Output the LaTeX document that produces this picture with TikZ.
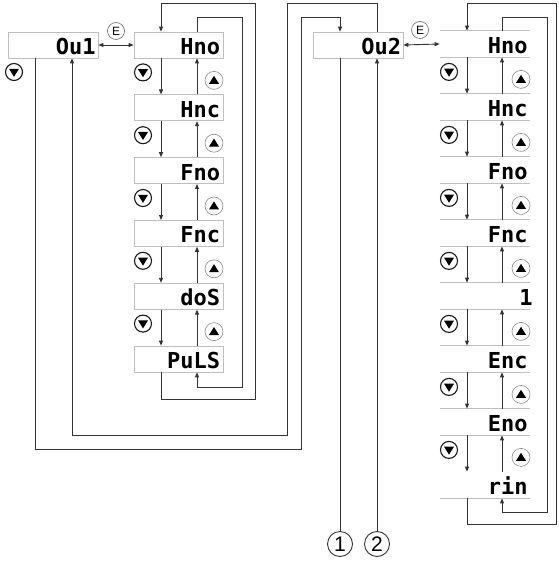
\documentclass[tikz,border=0pt]{standalone}
\usepackage{fontspec}
\setmainfont{Liberation Sans}
\newfontfamily\segfont{DejaVu Sans Mono}
\usetikzlibrary{arrows.meta,calc}
\begin{document}
\begin{tikzpicture}[x=1pt,y=-1pt,
  ln/.style={line width=0.9pt, draw=black!80},
  arr/.style={ln, -{Triangle[length=5pt,width=4pt]}},
  darr/.style={ln, {Triangle[length=5pt,width=4pt]}-{Triangle[length=5pt,width=4pt]}},
  disp/.style={draw=black!25, line width=0.8pt, minimum width=89pt, minimum height=26pt,
    text width=83pt, align=right, inner sep=0pt, text height=19pt, text depth=0pt,
    font=\segfont\bfseries\fontsize{22}{22}\selectfont},
  rdisp/.style={disp, draw=none, minimum width=90pt, text width=85pt},
  gl/.style={draw=black!25, line width=0.8pt},
  dnbtn/.style={circle, draw=black!90, line width=1.1pt, minimum size=17pt, inner sep=0pt,
    path picture={\fill[black] ([shift={(-5pt,3.2pt)}]path picture bounding box.center)
      -- ++(10pt,0pt) -- ++(-5pt,-8pt) -- cycle;}},
  upbtn/.style={circle, draw=black!45, line width=0.6pt, minimum size=18pt, inner sep=0pt,
    path picture={\fill[black] ([shift={(-5pt,-3.4pt)}]path picture bounding box.center)
      -- ++(10pt,0pt) -- ++(-5pt,8pt) -- cycle;}},
  ebtn/.style={circle, draw=black!60, line width=0.6pt, minimum size=17pt, inner sep=0pt,
    font=\fontsize{12}{12}\selectfont},
  numc/.style={circle, draw=black!80, line width=0.9pt, minimum size=25pt, inner sep=0pt,
    font=\fontsize{21}{21}\selectfont}
]
\useasboundingbox (0,0) rectangle (558,561);

% column x coordinates
\coordinate (dL) at (161,0);
\coordinate (uL) at (197,0);
\coordinate (dR) at (467,0);
\coordinate (uR) at (502,0);
\coordinate (xa) at (35,0);
\coordinate (xb) at (72,0);
\coordinate (xc) at (340,0);
\coordinate (xd) at (377,0);

% Output 1 and Output 2
\node[disp, minimum width=90pt, text width=85pt] (ou1) at (53,45) {Ou1};
\node[disp, minimum width=90pt, text width=86pt] (ou2) at (358,45) {Ou2};
\node[dnbtn] (ou1dn) at (14,72) {};

% left column
\node[disp] (l1) at (178.5,45.0) {Hno};
\node[disp] (l2) at (178.5,107.8) {Hnc};
\node[disp] (l3) at (178.5,170.6) {Fno};
\node[disp] (l4) at (178.5,233.4) {Fnc};
\node[disp] (l5) at (178.5,296.2) {doS};
\node[disp] (l6) at (178.5,359.0) {PuLS};

% right column
\node[rdisp] (r1) at (485,44) {Hno};
\node[rdisp] (r2) at (485,107) {Hnc};
\node[rdisp] (r3) at (485,170) {Fno};
\node[rdisp] (r4) at (485,233) {Fnc};
\node[rdisp] (r5) at (485,296) {1\kern-5pt};
\node[rdisp] (r6) at (485,359) {Enc};
\node[rdisp] (r7) at (485,422) {Eno};
\node[rdisp] (r8) at (485,485) {rin};
\foreach \n in {r1,r2,r3,r4,r5,r6,r7}{
  \draw[gl] (\n.north west) -- (\n.north east);
  \draw[gl] (\n.south west) -- (\n.south east);
}
\draw[gl] (r8.south west) -- (r8.south east);

% E buttons and arrows
\node[ebtn] (e1) at (116,31) {E};
\node[ebtn] (e2) at (420,30) {E};
\draw[darr] (ou1.east) -- (l1.west);
\draw[darr] (ou2.east) -- (r1.west);

% left column steps
\foreach \a/\b [count=\i] in {l1/l2,l2/l3,l3/l4,l4/l5,l5/l6}{
  \draw[arr] (\a.south -| dL) -- (\b.north -| dL);
  \draw[arr] (\b.north -| uL) -- (\a.south -| uL);
  \node[dnbtn] (ldn\i) at ($(\a.south -| dL)+(-18pt,-14pt)$) {};
  \node[upbtn] (lup\i) at ($(\a.south -| uL)+(17pt,-22pt)$) {};
}
% right column steps
\foreach \a/\b [count=\i] in {r1/r2,r2/r3,r3/r4,r4/r5,r5/r6,r6/r7,r7/r8}{
  \draw[arr] (\a.south -| dR) -- (\b.north -| dR);
  \draw[arr] (\b.north -| uR) -- (\a.south -| uR);
  \node[dnbtn] (rdn\i) at ($(\a.south -| dR)+(-18pt,-14.5pt)$) {};
  \node[upbtn] (rup\i) at ($(\a.south -| uR)+(19pt,-22pt)$) {};
}

% left loops
\draw[arr] (l6.south -| dL) -- (161,399) -| (255,3) -| (l1.north -| dL);
\draw[arr] (l1.north -| uL) -- (197,17) -| (242,387) -| (l6.south -| uL);
% right loops
\draw[arr] (r8.south -| dR) -- (467,524) -| (556,3) -| (r1.north -| dR);
\draw[arr] (r1.north -| uR) -- (502,17) -| (547,512) -| (r8.south -| uR);

% links between outputs
\draw[arr] (ou1.south -| xa) -- (35,449) -| (301,17) -| (ou2.north -| xc);
\draw[arr] (ou2.north -| xd) -- (377,3) -| (287,435) -| (ou1.south -| xb);

% numbered exits
\node[numc] (c1) at (340,544) {1};
\node[numc] (c2) at (377,544) {2};
\draw[ln] (ou2.south -| xc) -- (c1.north);
\draw[arr] (c2.north) -- (ou2.south -| xd);
\end{tikzpicture}
\end{document}
